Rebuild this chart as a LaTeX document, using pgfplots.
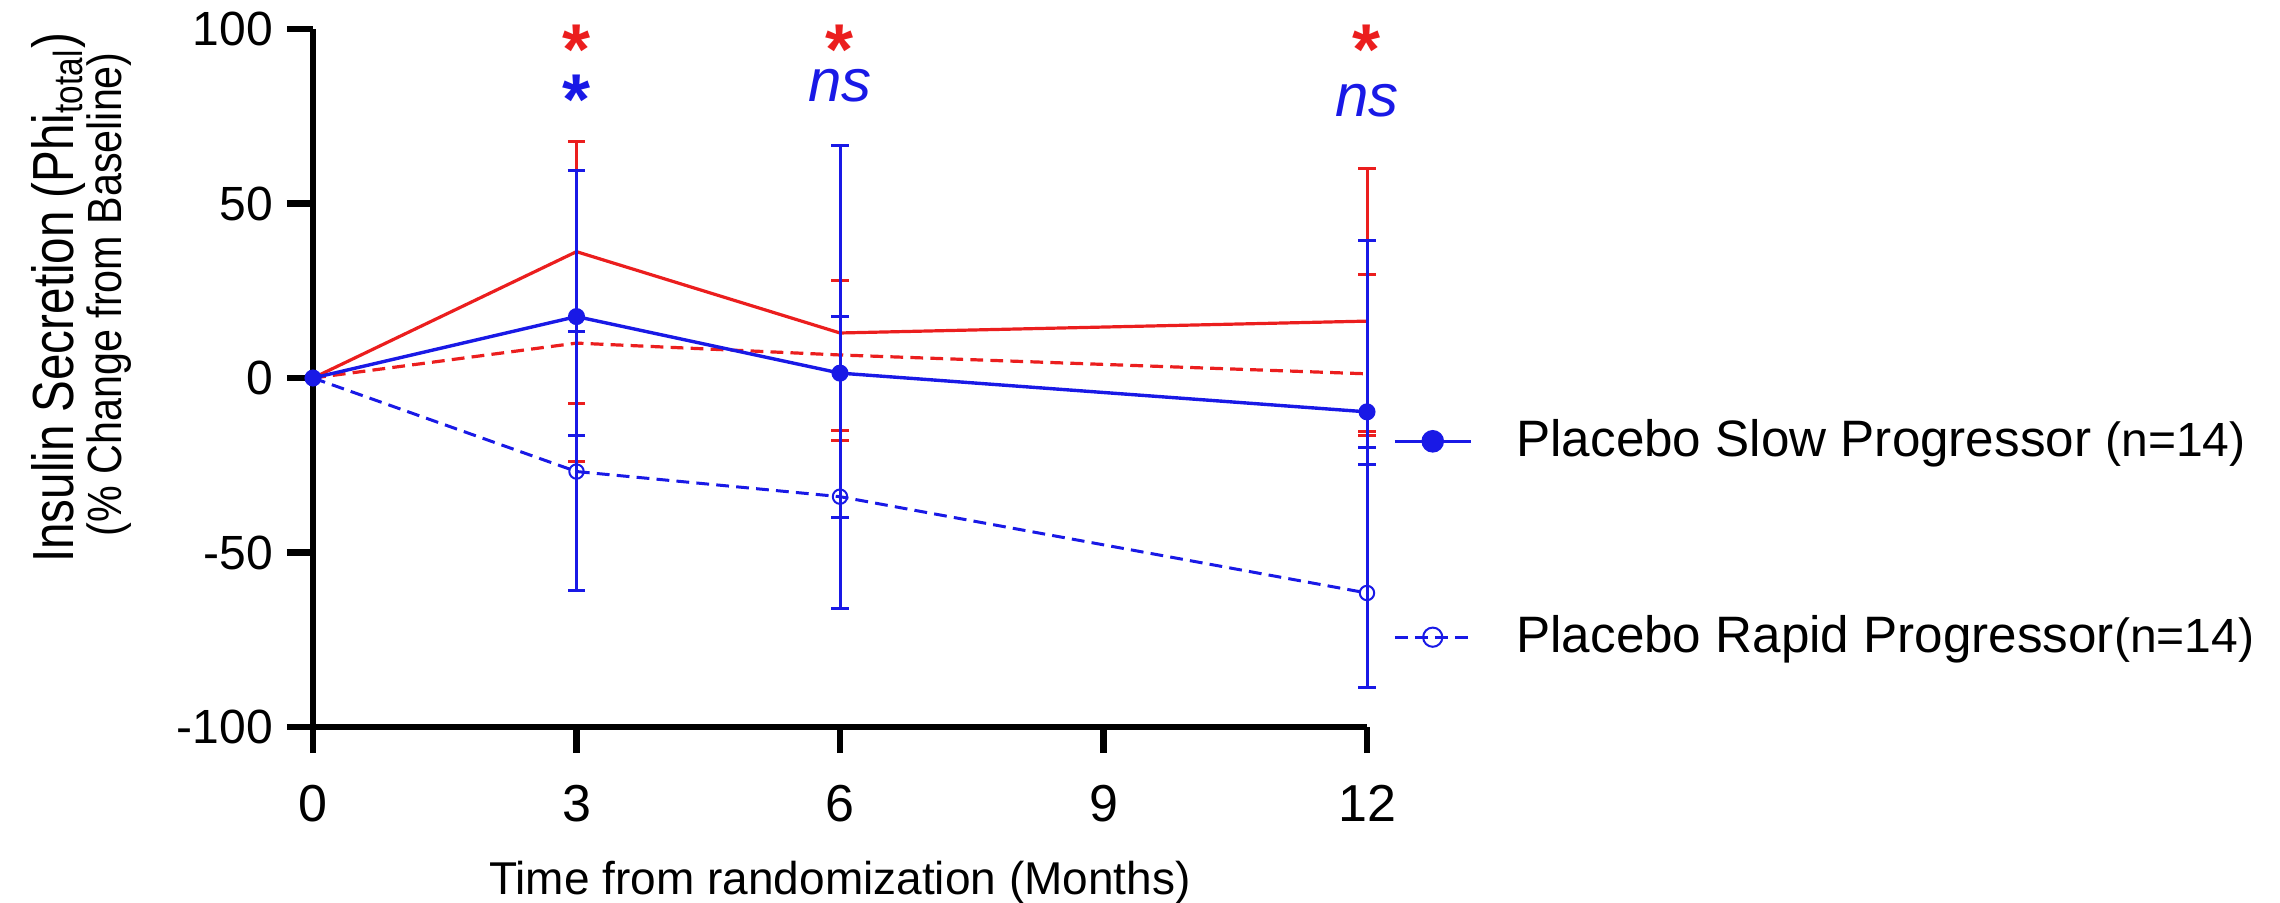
\documentclass[border=0pt]{standalone}
\usepackage{fontspec}
\setmainfont{Liberation Sans}
\newfontfamily\narrowA[FakeStretch=0.82]{Liberation Sans}
\newfontfamily\narrowB[FakeStretch=0.86]{Liberation Sans}
\usepackage{pgfplots}
\pgfplotsset{compat=1.18}
\definecolor{pred}{RGB}{235,30,30}
\definecolor{pblue}{RGB}{25,25,230}
\newcommand{\sigstar}{\raisebox{-7.56pt}[\dimexpr\height-7.56pt\relax][0pt]{*}}
\begin{document}
\begin{tikzpicture}
\useasboundingbox (-78.25pt,-43.75pt) rectangle (491.75pt,181.75pt);
\begin{axis}[
  at={(0,0)}, anchor=south west,
  scale only axis, width=263.5pt, height=174.5pt,
  xmin=0, xmax=12, ymin=-100, ymax=100,
  axis x line*=bottom, axis y line*=left,
  axis line style={line width=1.6pt, -},
  xtick={0,3,6,9,12}, xticklabels={0,3,6,9,12},
  ytick={-100,-50,0,50,100}, yticklabels={-100,-50,0,50,100},
  tick align=outside, major tick length=6.5pt,
  every tick/.style={line width=1.6pt, black},
  xticklabel style={font=\fontsize{13}{15}\selectfont, yshift=-4.5pt},
  yticklabel style={font=\fontsize{12}{14}\selectfont},
  clip=false,
  legend cell align=left,
  reverse legend=true,
  legend style={at={(rel axis cs:1.0247,0.269)}, anchor=west, draw=none, fill=none,
    inner sep=0pt, outer sep=0pt, row sep=34.2pt, font=\fontsize{12.8}{15}\selectfont},
  legend image code/.code={\draw[mark repeat=2, mark phase=2, #1, mark size=2.4pt] plot coordinates {(0pt,0pt) (9.5pt,0pt) (19pt,0pt)};},
  error bars/error bar style={solid, line width=0.75pt},
  error bars/error mark options={solid, rotate=90, line width=0.75pt, mark size=2.15pt},
]
% red solid
\addplot[forget plot, pred, line width=0.8pt, mark=none,
  error bars/.cd, y dir=both, y explicit]
  coordinates {(0,0) (3,36.2) += (0,31.5) -= (0,43.4) (6,12.9) += (0,15.1) -= (0,27.8) (12,16.3) += (0,43.6) -= (0,31.5)};
% red dashed
\addplot[forget plot, pred, line width=0.8pt, mark=none, dash pattern=on 3.2pt off 1.8pt,
  error bars/.cd, y dir=both, y explicit]
  coordinates {(0,0) (3,10) += (0,49.6) -= (0,34) (6,6.6) += (0,21.4) -= (0,24.4) (12,1.2) += (0,28.6) -= (0,17.8)};
% blue dashed (rapid)
\addplot[pblue, line width=0.75pt, dash pattern=on 3.2pt off 1.8pt, mark=o,
  mark options={solid, line width=0.5pt}, mark size=1.8pt,
  error bars/.cd, y dir=both, y explicit]
  coordinates {(0,0) (3,-26.8) += (0,40.1) -= (0,34.2) (6,-34) += (0,51.6) -= (0,6) (12,-61.6) += (0,41.6) -= (0,27.2)};
% blue solid (slow)
\addplot[pblue, line width=0.85pt, mark=*, mark size=1.7pt,
  error bars/.cd, y dir=both, y explicit]
  coordinates {(0,0) (3,17.6) += (0,42) -= (0,34) (6,1.4) += (0,65.1) -= (0,67.4) (12,-9.7) += (0,49.1) -= (0,15)};
\legend{{\hspace{9pt}Placebo Rapid Progressor{\fontsize{12}{14}\selectfont(n=14)}},{\hspace{9pt}Placebo Slow Progressor {\fontsize{12}{14}\selectfont(n=14)}}}
% annotations
\node[inner sep=0pt, text=pred, font=\fontsize{18}{18}\selectfont\bfseries, anchor=base] at (axis cs:3,95.57) {\sigstar};
\node[inner sep=0pt, text=pblue, font=\fontsize{18}{18}\selectfont\bfseries, anchor=base] at (axis cs:3,81.17) {\sigstar};
\node[inner sep=0pt, text=pred, font=\fontsize{18}{18}\selectfont\bfseries, anchor=base] at (axis cs:6,95.57) {\sigstar};
\node[inner sep=0pt, text=pblue, font=\fontsize{15}{15}\selectfont\itshape, anchor=base] at (axis cs:6,79.3) {ns};
\node[inner sep=0pt, text=pred, font=\fontsize{18}{18}\selectfont\bfseries, anchor=base] at (axis cs:12,95.57) {\sigstar};
\node[inner sep=0pt, text=pblue, font=\fontsize{15}{15}\selectfont\itshape, anchor=base] at (axis cs:12,74.8) {ns};
% axis labels
\node[rotate=90, font=\narrowA\fontsize{14.5}{16}\selectfont] at (rel axis cs:-0.2419,0.615) {Insulin Secretion (Phi\textsubscript{total})};
\node[rotate=90, font=\narrowB\fontsize{12}{14}\selectfont] at (rel axis cs:-0.1935,0.62) {(\% Change from Baseline)};
\node[font=\fontsize{11.5}{14}\selectfont, yshift=-38.85pt] at (rel axis cs:0.5,0) {Time from randomization (Months)};
\end{axis}
\end{tikzpicture}
\end{document}
